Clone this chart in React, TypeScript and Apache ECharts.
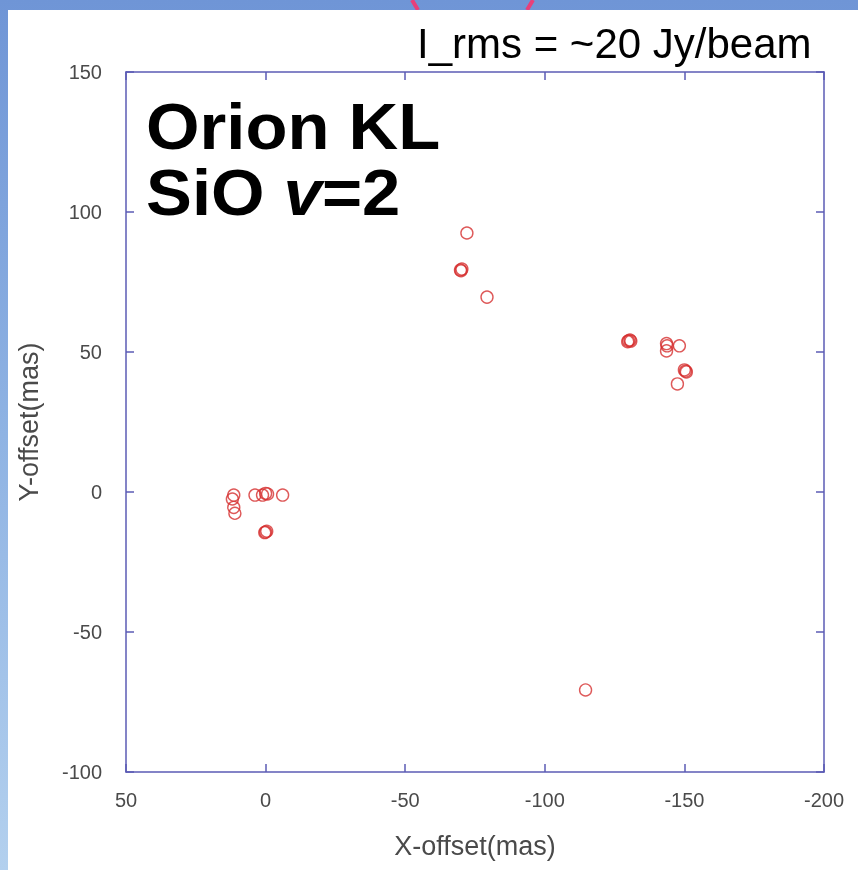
import React, { useEffect, useRef } from "react";
import * as echarts from "echarts";

const xOffsets = [
  -72.1, -69.8, -70.3, -70.0, -79.3,
  -130.0, -130.5, -129.7, -130.8,
  -143.6, -143.8, -143.6, -148.2,
  -150.4, -150.0, -150.7, -147.5,
  -114.6,
  11.4, 11.9, 11.4, 11.0, 3.8, 1.1, 0.0, -0.7, -6.1, 0.0, -0.4, 0.3,
];
const yOffsets = [
  92.5, 79.3, 79.6, 79.0, 69.6,
  54.0, 54.3, 53.7, 53.9,
  53.0, 52.2, 50.4, 52.2,
  43.2, 43.6, 42.9, 38.6,
  -70.7,
  -1.1, -2.5, -5.5, -7.6, -1.1, -1.1, -0.5, -0.7, -1.1, -14.3, -14.0, -14.5,
];
const xTicks = [50, 0, -50, -100, -150, -200];
const yTicks = [-100, -50, 0, 50, 100, 150];

const AXIS_COLOR = "#5b5bb5";
const LABEL_COLOR = "#4a4a4a";
const FONT = "'Liberation Sans', Arial, sans-serif";

export default function App() {
  const ref = useRef<HTMLDivElement>(null);
  useEffect(() => {
    if (!ref.current) return;
    const chart = echarts.init(ref.current, null, { renderer: "svg" });
    const points = xOffsets.map((x, i) => [x, yOffsets[i]]);
    const axisCommon = {
      type: "value" as const,
      axisLine: { show: true, onZero: false, lineStyle: { color: AXIS_COLOR, width: 1.5 } },
      axisTick: { show: true, inside: true, length: 8, lineStyle: { color: AXIS_COLOR, width: 1.5 } },
      splitLine: { show: false },
    };
    chart.setOption({
      animation: false,
      backgroundColor: "transparent",
      graphic: [
        {
          type: "rect",
          z: -10,
          shape: { x: 0, y: 0, width: 858, height: 870 },
          style: {
            fill: new echarts.graphic.LinearGradient(0, 0, 0, 1, [
              { offset: 0, color: "#6f95d6" },
              { offset: 0.5, color: "#8fb3e3" },
              { offset: 1, color: "#b3d0ee" },
            ]),
          },
          silent: true,
        },
        {
          type: "line",
          z: -9,
          shape: { x1: 412, y1: 0, x2: 418, y2: 10 },
          style: { stroke: "#e8407a", lineWidth: 4 },
          silent: true,
        },
        {
          type: "line",
          z: -9,
          shape: { x1: 533, y1: 0, x2: 527, y2: 10 },
          style: { stroke: "#e8407a", lineWidth: 4 },
          silent: true,
        },
        {
          type: "rect",
          z: -8,
          shape: { x: 8, y: 10, width: 850, height: 860 },
          style: { fill: "#ffffff" },
          silent: true,
        },
        {
          type: "text",
          left: 417,
          top: 22,
          style: {
            text: "I_rms = ~20 Jy/beam",
            font: "42px " + FONT,
            fill: "#000000",
          },
        },
        {
          type: "text",
          x: 146,
          y: 94,
          scaleX: 1.075,
          style: {
            rich: {
              n: { font: "bold 64px " + FONT, lineHeight: 66, fill: "#000000" },
              i: { font: "italic bold 64px " + FONT, lineHeight: 66, fill: "#000000" },
            },
            text: "{n|Orion KL}\n{n|SiO }{i|v}{n|=2}",
          },
        },
      ],
      grid: { left: 126, right: 34, top: 72, bottom: 98, containLabel: false },
      xAxis: [
        {
          ...axisCommon,
          position: "bottom",
          min: -200,
          max: 50,
          interval: 50,
          inverse: true,
          name: "X-offset(mas)",
          nameLocation: "middle",
          nameGap: 60,
          nameTextStyle: { fontFamily: FONT, fontSize: 27, color: LABEL_COLOR },
          axisLabel: { fontFamily: FONT, fontSize: 20, color: LABEL_COLOR, margin: 18 },
        },
        {
          ...axisCommon,
          position: "top",
          min: -200,
          max: 50,
          interval: 50,
          inverse: true,
          axisLabel: { show: false },
        },
      ],
      yAxis: [
        {
          ...axisCommon,
          position: "left",
          min: -100,
          max: 150,
          interval: 50,
          name: "Y-offset(mas)",
          nameLocation: "middle",
          nameGap: 84,
          nameTextStyle: { fontFamily: FONT, fontSize: 27, color: LABEL_COLOR },
          axisLabel: { fontFamily: FONT, fontSize: 20, color: LABEL_COLOR, margin: 24 },
        },
        {
          ...axisCommon,
          position: "right",
          min: -100,
          max: 150,
          interval: 50,
          axisLabel: { show: false },
        },
      ],
      series: [
        {
          type: "scatter",
          xAxisIndex: 0,
          yAxisIndex: 0,
          data: points,
          symbol: "circle",
          symbolSize: 12,
          itemStyle: { color: "rgba(255,255,255,0)", borderColor: "#d63030", borderWidth: 1.4 },
        },
      ],
    });
    return () => chart.dispose();
  }, []);
  return (
    <div
      ref={ref}
      style={{ position: "fixed", left: 0, top: 0, width: 858, height: 870 }}
    />
  );
}
